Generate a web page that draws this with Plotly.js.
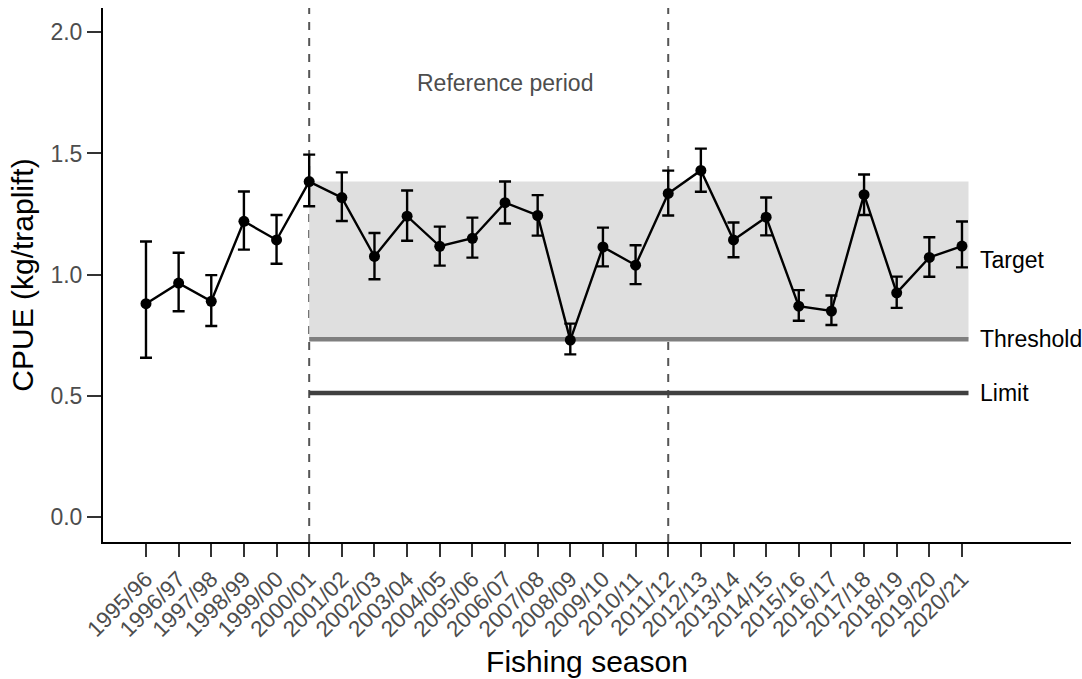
<!DOCTYPE html>
<html>
<head>
<meta charset="utf-8">
<script src="https://cdn.plot.ly/plotly-3.0.1.min.js"></script>
<style>html,body{margin:0;padding:0;background:#fff;}#chart{width:1082px;height:679px;}</style>
</head>
<body>
<div id="chart"></div>
<script>
const seasons = ["1995/96","1996/97","1997/98","1998/99","1999/00","2000/01","2001/02","2002/03","2003/04","2004/05","2005/06","2006/07","2007/08","2008/09","2009/10","2010/11","2011/12","2012/13","2013/14","2014/15","2015/16","2016/17","2017/18","2018/19","2019/20","2020/21"];
const cpue  = [0.88,0.965,0.89,1.22,1.143,1.384,1.318,1.075,1.241,1.117,1.15,1.297,1.244,0.73,1.114,1.039,1.335,1.43,1.143,1.237,0.87,0.85,1.33,0.925,1.071,1.118];
const upper = [1.137,1.09,0.998,1.343,1.246,1.495,1.422,1.172,1.347,1.198,1.235,1.384,1.328,0.798,1.194,1.121,1.429,1.52,1.215,1.318,0.936,0.914,1.413,0.992,1.154,1.219];
const lower = [0.657,0.849,0.788,1.103,1.045,1.282,1.221,0.981,1.14,1.037,1.07,1.211,1.161,0.671,1.034,0.961,1.244,1.342,1.072,1.162,0.81,0.792,1.246,0.863,0.991,1.03];
const refStart = "2000/01", refEnd = "2011/12";
const targetTop = 1.384, threshold = 0.733, limit = 0.512;
const refLabel = "Reference period";
const refLabels = ["Target","Threshold","Limit"];

const xi = seasons.map((s,i)=>i);
const i0 = seasons.indexOf(refStart), i1 = seasons.indexOf(refEnd);
const iEnd = seasons.length - 1 + 0.2;
const iLab = seasons.length - 1 + 0.48;

const trace = {
  x: xi, y: cpue, type: 'scatter', mode: 'lines+markers',
  line: {color: '#000', width: 2.4},
  marker: {color: '#000', size: 11},
  error_y: {type: 'data', symmetric: false,
    array: upper.map((u,i)=>u-cpue[i]),
    arrayminus: lower.map((l,i)=>cpue[i]-l),
    color: '#000', thickness: 2.4, width: 6},
  hoverinfo: 'x+y', showlegend: false
};

const shapes = [
  {type:'rect', xref:'x', yref:'y', x0:i0, x1:iEnd, y0:threshold, y1:targetTop, fillcolor:'rgb(223,223,223)', line:{width:0}, layer:'below'},
  {type:'line', xref:'x', yref:'y', x0:i0, x1:iEnd, y0:threshold, y1:threshold, line:{color:'#7f7f7f', width:4.5}, layer:'below'},
  {type:'line', xref:'x', yref:'y', x0:i0, x1:iEnd, y0:limit, y1:limit, line:{color:'#404040', width:4.5}, layer:'below'},
  {type:'line', xref:'x', yref:'paper', x0:i0, x1:i0, y0:0, y1:1, line:{color:'#555555', width:2, dash:'8px,8px'}, layer:'below'},
  {type:'line', xref:'x', yref:'paper', x0:i1, x1:i1, y0:0, y1:1, line:{color:'#555555', width:2, dash:'8px,8px'}, layer:'below'}
];

const fontFam = 'Liberation Sans, Arial, sans-serif';
const annotations = [
  {x:(i0+i1)/2+0.5, y:1.79, xref:'x', yref:'y', text:refLabel, showarrow:false, font:{family:fontFam, size:23, color:'#4d4d4d'}},
  {x:iLab, y:(threshold+targetTop)/2, xref:'x', yref:'y', text:refLabels[0], showarrow:false, xanchor:'left', font:{family:fontFam, size:23, color:'#000'}},
  {x:iLab, y:threshold, xref:'x', yref:'y', text:refLabels[1], showarrow:false, xanchor:'left', font:{family:fontFam, size:23, color:'#000'}},
  {x:iLab, y:limit, xref:'x', yref:'y', text:refLabels[2], showarrow:false, xanchor:'left', font:{family:fontFam, size:23, color:'#000'}}
];

const layout = {
  width: 1082, height: 679,
  margin: {l:103, r:11, t:8, b:137},
  paper_bgcolor:'#fff', plot_bgcolor:'#fff',
  font: {family: fontFam},
  xaxis: {
    range: [-1.317, 28.34], tickvals: xi, ticktext: seasons, tickangle: -45,
    showgrid:false, zeroline:false, showline:true, linecolor:'#000', linewidth:2,
    ticks:'outside', ticklen:13, tickwidth:2, tickcolor:'#333',
    tickfont:{family:fontFam, size:22.5, color:'#4d4d4d'},
    title:{text:'Fishing season', font:{family:fontFam, size:30, color:'#000'}, standoff: 10},
    automargin:false
  },
  yaxis: {
    range: [-0.103, 2.1], tickvals:[0,0.5,1,1.5,2], ticktext:['0.0','0.5','1.0','1.5','2.0'],
    showgrid:false, zeroline:false, showline:true, linecolor:'#000', linewidth:2,
    ticks:'outside', ticklen:14, tickwidth:2, tickcolor:'#333',
    tickfont:{family:fontFam, size:23, color:'#4d4d4d'},
    title:{text:'CPUE (kg/traplift)', font:{family:fontFam, size:30, color:'#000'}, standoff: 8},
    automargin:false
  },
  shapes: shapes, annotations: annotations, showlegend:false
};
Plotly.newPlot('chart', [trace], layout, {displayModeBar:false, staticPlot:true});
</script>
</body>
</html>
